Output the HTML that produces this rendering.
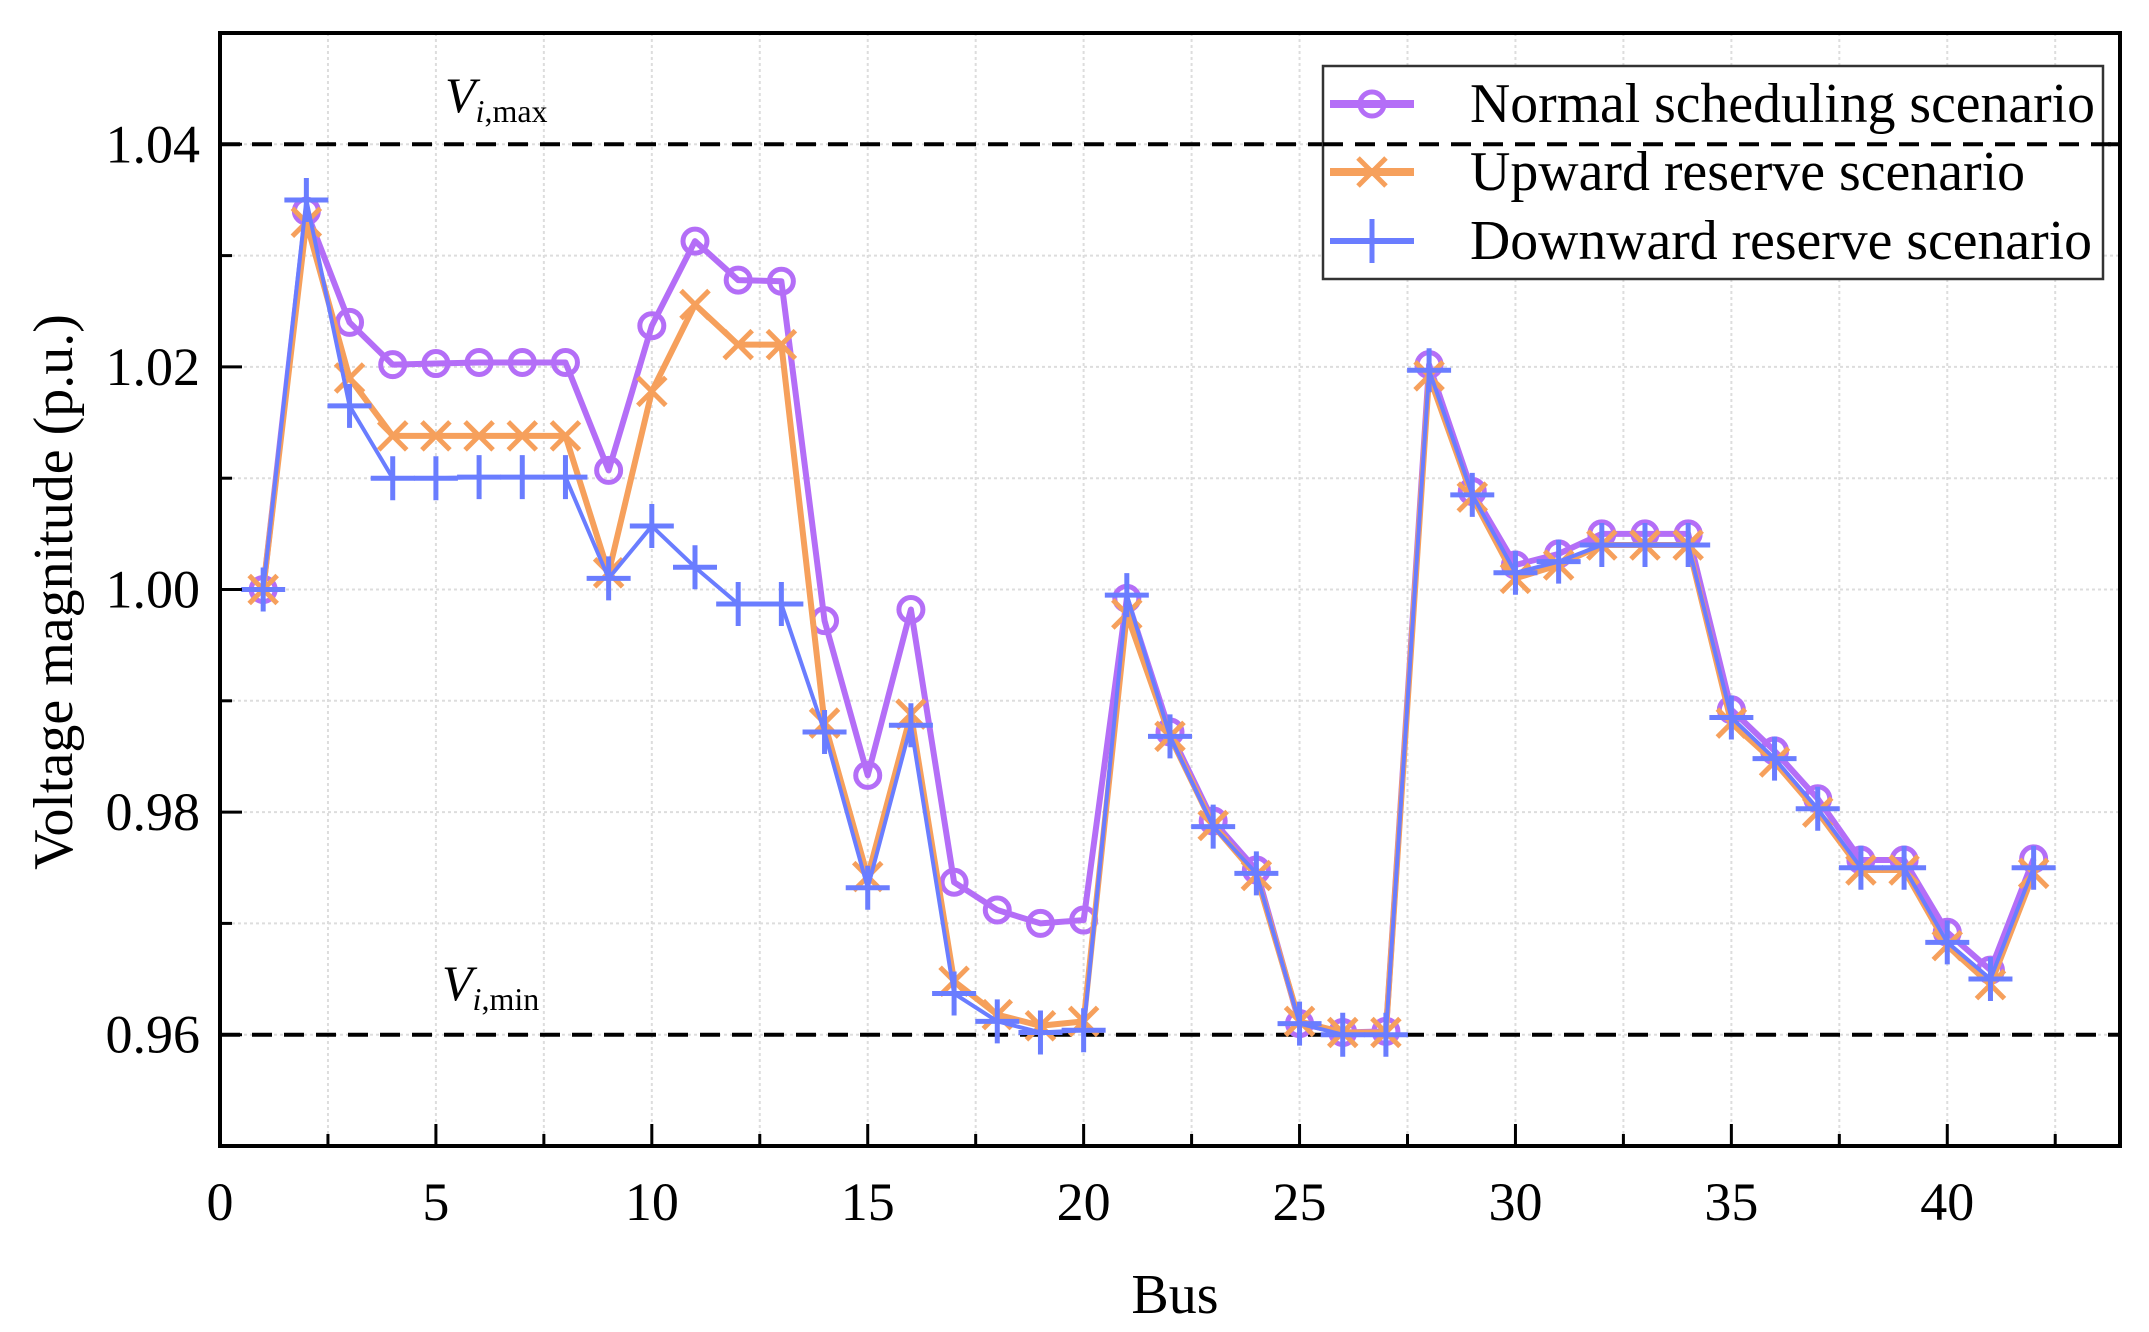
<!DOCTYPE html>
<html><head><meta charset="utf-8">
<style>
html,body{margin:0;padding:0;background:#fff;}
svg{display:block;font-family:"Liberation Serif",serif;}
text{font-family:"Liberation Serif",serif;}
</style></head>
<body>
<svg id="chart" width="2149" height="1332" viewBox="0 0 2149 1332" xmlns="http://www.w3.org/2000/svg">
<g id="grid"></g>
<g id="limits"></g>
<g id="series"></g>
<g id="axes"></g>
<text x="445" y="112" font-size="50" font-style="italic">V<tspan font-size="32" dy="10">i</tspan><tspan font-size="32" font-style="normal">,max</tspan></text>
<text x="442" y="1000" font-size="50" font-style="italic">V<tspan font-size="32" dy="10">i</tspan><tspan font-size="32" font-style="normal">,min</tspan></text>
<text x="1175" y="1313" font-size="56" text-anchor="middle">Bus</text>
<text transform="translate(72,592) rotate(-90)" font-size="56" text-anchor="middle">Voltage magnitude (p.u.)</text>
<g id="legend"></g>
<g id="legend-text">
<text x="1470" y="122" style="font-family:'Liberation Serif',serif;font-size:56px" textLength="625" lengthAdjust="spacingAndGlyphs">Normal scheduling scenario</text>
<text x="1470" y="190" style="font-family:'Liberation Serif',serif;font-size:56px" textLength="555" lengthAdjust="spacingAndGlyphs">Upward reserve scenario</text>
<text x="1470" y="259" style="font-family:'Liberation Serif',serif;font-size:56px" textLength="622" lengthAdjust="spacingAndGlyphs">Downward reserve scenario</text>
</g>
</svg>
<script>
const buses=[1,2,3,4,5,6,7,8,9,10,11,12,13,14,15,16,17,18,19,20,21,22,23,24,25,26,27,28,29,30,31,32,33,34,35,36,37,38,39,40,41,42];
const normal=[1.000,1.034,1.024,1.0202,1.0203,1.0204,1.0204,1.0204,1.0107,1.0237,1.0313,1.0278,1.0277,0.9972,0.9833,0.9982,0.9737,0.9712,0.9700,0.9703,0.9992,0.9872,0.9792,0.9748,0.9610,0.9602,0.9603,1.0202,1.0088,1.0022,1.0032,1.0050,1.0050,1.0050,0.9892,0.9855,0.9812,0.9757,0.9757,0.9692,0.9658,0.9758];
const upward=[1.000,1.033,1.019,1.0138,1.0138,1.0138,1.0138,1.0138,1.0015,1.0178,1.0256,1.0220,1.0220,0.9880,0.9742,0.9888,0.9648,0.9618,0.9608,0.9612,0.9978,0.9868,0.9788,0.9743,0.9612,0.9602,0.9602,1.0192,1.0083,1.0010,1.0022,1.0040,1.0040,1.0040,0.9880,0.9845,0.9800,0.9748,0.9748,0.9680,0.9645,0.9745];
const downward=[1.000,1.035,1.0165,1.0100,1.0100,1.0101,1.0101,1.0101,1.0010,1.0057,1.0020,0.9987,0.9987,0.9872,0.9732,0.9878,0.9637,0.9612,0.9602,0.9604,0.9995,0.9868,0.9787,0.9745,0.9610,0.9600,0.9600,1.0197,1.0085,1.0015,1.0025,1.0040,1.0040,1.0040,0.9885,0.9848,0.9803,0.9750,0.9750,0.9683,0.9650,0.9750];
const xTicks=[0,5,10,15,20,25,30,35,40];
const yTicks=[0.96,0.98,1.00,1.02,1.04];
const limits=[1.04,0.96];
const L=220,R=2120,T=33,B=1146,XMIN=0,XMAX=44,YMIN=0.95,YMAX=1.05;
const sx=v=>L+(v-XMIN)/(XMAX-XMIN)*(R-L);
const sy=v=>B-(v-YMIN)/(YMAX-YMIN)*(B-T);
const NS="http://www.w3.org/2000/svg";
function mk(tag,attrs,parent){const e=document.createElementNS(NS,tag);for(const k in attrs)e.setAttribute(k,attrs[k]);parent.appendChild(e);return e;}
const grid=document.getElementById('grid'),axes=document.getElementById('axes'),ser=document.getElementById('series'),lim=document.getElementById('limits'),leg=document.getElementById('legend');
for(let x=2.5;x<XMAX;x+=2.5){const g=mk('line',{x1:sx(x),x2:sx(x),y1:T,y2:B,stroke:'#ddd','stroke-width':2,'stroke-dasharray':'3 3'},grid);}
for(let y=0.96;y<1.045;y+=0.01){const g=mk('line',{x1:L,x2:R,y1:sy(y),y2:sy(y),stroke:'#ddd','stroke-width':2,'stroke-dasharray':'3 3'},grid);}
limits.forEach(v=>{const l=mk('line',{x1:L,x2:R,y1:sy(v),y2:sy(v),stroke:'#000','stroke-width':4,'stroke-dasharray':'20 12'},lim);});
const colors={n:'#b46ef7',u:'#f6a05c',d:'#6a7dff'};
function line(data,color,w,name){const p=mk('polyline',{points:data.map((v,i)=>sx(buses[i])+','+sy(v)).join(' '),fill:'none',stroke:color,'stroke-width':w,'stroke-linejoin':'round'},ser);}
function circ(x,y,g){const c=mk('circle',{cx:x,cy:y,r:12,fill:'none',stroke:colors.n,'stroke-width':5},g);}
function cross(x,y,g){const s=14;const p=mk('path',{d:`M${x-s} ${y-s}L${x+s} ${y+s}M${x-s} ${y+s}L${x+s} ${y-s}`,stroke:colors.u,'stroke-width':5,fill:'none'},g);}
function plus(x,y,g){const s=22;const p=mk('path',{d:`M${x-s} ${y}L${x+s} ${y}M${x} ${y-s}L${x} ${y+s}`,stroke:colors.d,'stroke-width':5,fill:'none'},g);}
line(normal,colors.n,6,'normal-line');normal.forEach((v,i)=>circ(sx(buses[i]),sy(v),ser));
line(upward,colors.u,6,'upward-line');upward.forEach((v,i)=>cross(sx(buses[i]),sy(v),ser));
line(downward,colors.d,4,'downward-line');downward.forEach((v,i)=>plus(sx(buses[i]),sy(v),ser));
const fr=mk('rect',{x:L,y:T,width:R-L,height:B-T,fill:'none',stroke:'#000','stroke-width':4},axes);
for(let x=0;x<=XMAX;x+=2.5){const major=x%5===0;const t=mk('line',{x1:sx(x),x2:sx(x),y1:B,y2:B-(major?22:12),stroke:'#000','stroke-width':3},axes);}
for(let y=0.95;y<=1.0501;y+=0.01){const major=Math.abs(Math.round(y*100)%2)===0;const t=mk('line',{x1:L,x2:L+(major?22:12),y1:sy(y),y2:sy(y),stroke:'#000','stroke-width':3},axes);}
xTicks.forEach(v=>{const t=mk('text',{x:sx(v),y:1220,'font-size':54,'text-anchor':'middle'},axes);t.textContent=v;});
yTicks.forEach(v=>{const t=mk('text',{x:L-20,y:sy(v)+18,'font-size':54,'text-anchor':'end'},axes);t.textContent=v.toFixed(2);});
const lb=mk('rect',{x:1323,y:66,width:780,height:213,fill:'#fff',stroke:'#333','stroke-width':2.5},leg);
const ld=mk('line',{x1:1323,x2:R,y1:sy(1.04),y2:sy(1.04),stroke:'#000','stroke-width':4,'stroke-dasharray':'20 12'},leg);
const entries=[[colors.n,circ,104,6],[colors.u,cross,172,6],[colors.d,plus,241,4]];
entries.forEach(([c,fn,y,w])=>{const g=mk('g',{},leg);
const ln=mk('line',{x1:1330,x2:1414,y1:y,y2:y,stroke:c,'stroke-width':w+2},g);fn(1372,y,g);});
</script>
</body></html>
